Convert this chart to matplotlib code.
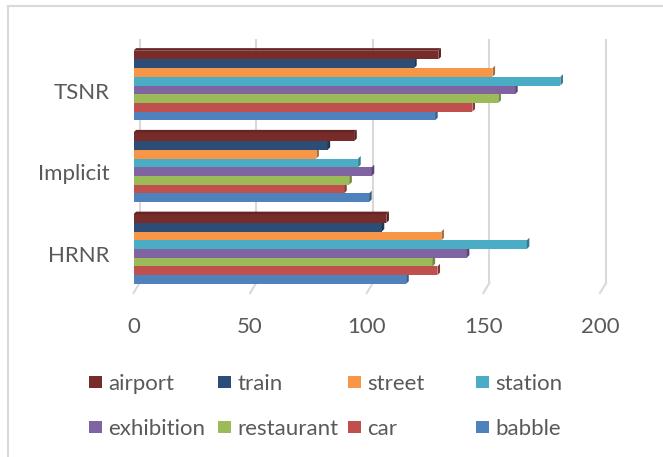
"""
Horizontal grouped bar chart of per-noise scores for three enhancement methods,
styled after an Excel 3-D clustered bar chart.
"""

import numpy as np
import matplotlib.pyplot as plt
from matplotlib.colors import to_rgb
from matplotlib.patches import Polygon, Rectangle
from matplotlib.lines import Line2D
from matplotlib.transforms import ScaledTranslation, blended_transform_factory

plt.rcParams['font.family'] = ['Lato', 'DejaVu Sans']

# Methods, bottom to top on the axis
categories = ['HRNR', 'Implicit', 'TSNR']

# Series values per method (HRNR, Implicit, TSNR)
babble = [116.9, 101.0, 129.3]
car = [130.3, 90.3, 145.3]
restaurant = [128.2, 92.5, 156.4]
exhibition = [142.9, 102.1, 163.6]
station = [168.6, 96.3, 183.0]
street = [132.0, 78.4, 153.9]
train = [106.4, 83.2, 120.3]
airport = [108.4, 94.6, 130.7]

series_names = ['babble', 'car', 'restaurant', 'exhibition',
                'station', 'street', 'train', 'airport']
series_values = [babble, car, restaurant, exhibition,
                 station, street, train, airport]
colors = ['#4F81BD', '#C0504D', '#9BBB59', '#8064A2',
          '#4BACC6', '#F79646', '#2C4D75', '#772C2A']

x_ticks = [0, 50, 100, 150, 200]

TEXT_COLOR = '#595959'
GRID_COLOR = '#D9D9D9'
DPI = 100
FIG_W, FIG_H = 663, 457


def shade(color, factor):
    r, g, b = to_rgb(color)
    return (r * factor, g * factor, b * factor)


def px(x, y):
    """Pixel position (from top-left) to figure fraction."""
    return x / FIG_W, 1 - y / FIG_H


fig = plt.figure(figsize=(FIG_W / DPI, FIG_H / DPI), dpi=DPI)

# Front plane: 0 at x=133.5 px, 200 at x=600 px; plot spans y=40..293 px
ax_left, ax_top = px(133.5, 40)
ax_right, ax_bottom = px(600, 293)
ax = fig.add_axes([ax_left, ax_bottom, ax_right - ax_left, ax_top - ax_bottom])
ax.set_xlim(0, 200)
ax.set_ylim(-0.538, 2.557)

unit_px = (600 - 133.5) / 200           # pixels per data unit along x
group_px = 81.75                          # pixels between group centres
depth_x = 6 / unit_px                     # back wall offset in data units
bar_h = 0.1064
n = len(series_names)
y = np.arange(len(categories))

# Gridlines on the back wall with a slanted foot to the floor front edge
trans = blended_transform_factory(ax.transData, ax.transAxes)
foot = 10 / 253
for t in x_ticks:
    ax.plot([t + depth_x, t + depth_x], [foot, 1], color=GRID_COLOR,
            lw=1.5, transform=trans, zorder=0, clip_on=False)
    ax.plot([t, t + depth_x], [0, foot], color=GRID_COLOR,
            lw=1.5, transform=trans, zorder=0, clip_on=False)

# Bars with a darker side face at the end and a top face on the top bar
side_dx = 2.6 / unit_px
side_dy = 2.6 / group_px
for i, (name, values, color) in enumerate(zip(series_names, series_values, colors)):
    offsets = y - 0.5 * n * bar_h + (i + 0.5) * bar_h
    ax.barh(offsets, values, height=bar_h, color=color, zorder=2)
    for yo, v in zip(offsets, values):
        y0, y1 = yo - bar_h / 2, yo + bar_h / 2
        side = Polygon([(v, y0), (v + side_dx, y0 + side_dy),
                        (v + side_dx, y1 + side_dy), (v, y1)],
                       closed=True, color=shade(color, 0.72), lw=0, zorder=2)
        ax.add_patch(side)
        if i == n - 1:
            top = Polygon([(0, y1), (side_dx, y1 + side_dy),
                           (v + side_dx, y1 + side_dy), (v, y1)],
                          closed=True, color=shade(color, 0.85), lw=0, zorder=2)
            ax.add_patch(top)

for spine in ax.spines.values():
    spine.set_visible(False)

ax.set_yticks(y)
ax.set_yticklabels(categories)
ax.set_xticks(x_ticks)
ax.set_xticklabels([str(t) for t in x_ticks])
ax.tick_params(axis='both', length=0, labelsize=16, labelcolor=TEXT_COLOR)
ax.tick_params(axis='y', pad=17)
ax.tick_params(axis='x', pad=17)
for label in ax.get_yticklabels():
    label.set_transform(label.get_transform()
                        + ScaledTranslation(0, -5 / DPI, fig.dpi_scale_trans))

# Chart border (cut off on the right and bottom)
x_b, y_b = px(8, 6)
fig.add_artist(Line2D([x_b, x_b], [0, y_b], color=GRID_COLOR, lw=1.5))
fig.add_artist(Line2D([x_b, 1], [y_b, y_b], color=GRID_COLOR, lw=1.5))

# Legend laid out in equal-width columns, series in reverse order
legend_cols = [89, 218, 348, 476]
legend_rows = [382, 427]
marker = 12.5
for k, idx in enumerate(range(n - 1, -1, -1)):
    cx = legend_cols[k % 4]
    cy = legend_rows[k // 4]
    x0, y0 = px(cx, cy + marker / 2)
    fig.add_artist(Rectangle((x0, y0), marker / FIG_W, marker / FIG_H,
                             transform=fig.transFigure, color=colors[idx], lw=0))
    tx, ty = px(cx + marker + 6.5, cy)
    fig.text(tx, ty, series_names[idx], fontsize=16, color=TEXT_COLOR,
             ha='left', va='center_baseline')

fig.savefig('out.png', dpi=DPI)
